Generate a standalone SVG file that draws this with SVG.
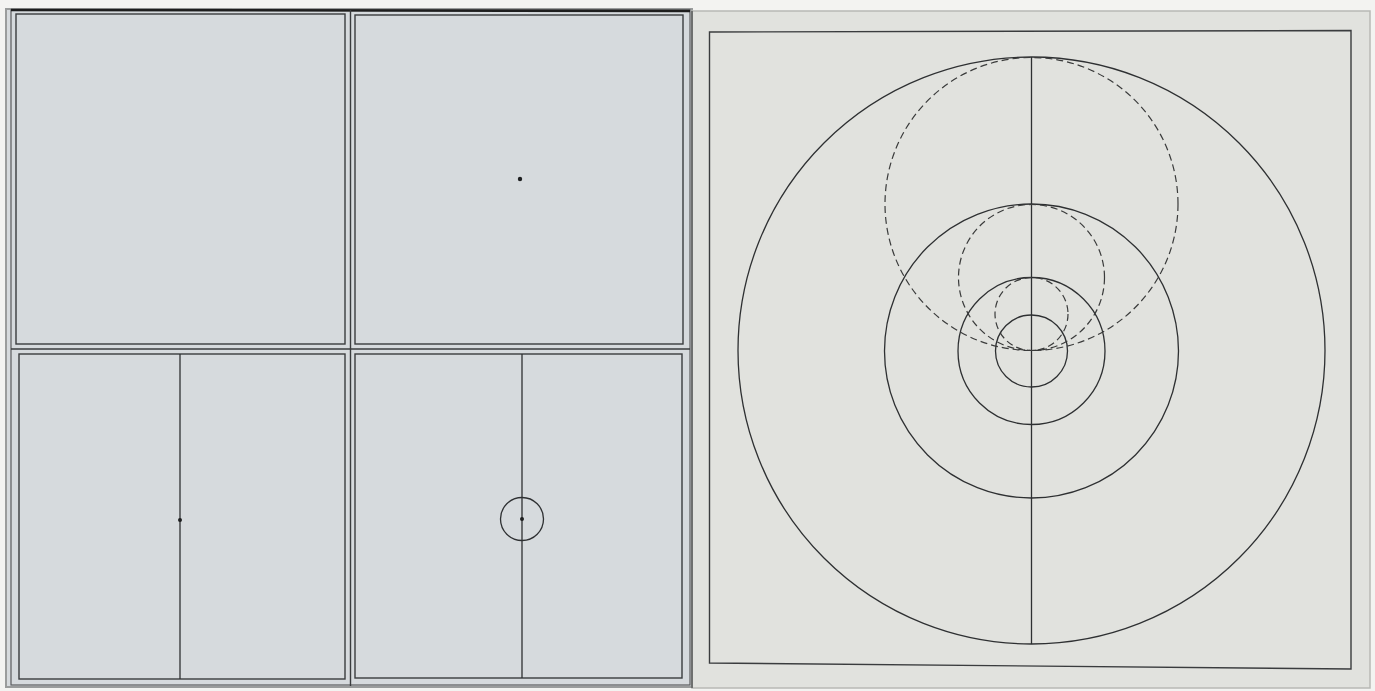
<svg xmlns="http://www.w3.org/2000/svg" width="1375" height="691" viewBox="0 0 1375 691">
<style>
.ln{fill:none;stroke:#2e3032;stroke-width:1.3}
.fr{fill:none;stroke:#3a3c3e;stroke-width:1.4}
.ds{fill:none;stroke:#3a3b3b;stroke-width:1.2;stroke-dasharray:7 4}
.dot{fill:#1e1f20}
</style>
<rect x="0" y="0" width="1375" height="691" fill="#f3f3f1"/>
<!-- left page -->
<g id="left-page">
<rect x="6" y="9" width="686" height="678" fill="#d6dadd" stroke="#9a9c9c" stroke-width="2"/>
<rect x="11" y="10" width="679" height="675" fill="none" stroke="#5a5c5e" stroke-width="1.2"/>
<line x1="11" y1="10" x2="690" y2="11" stroke="#1e1e1e" stroke-width="2.5"/>
<line class="fr" x1="350.5" y1="10" x2="350.5" y2="686"/>
<line class="fr" x1="11" y1="349" x2="690" y2="349"/>
</g>
<g id="panel-tl">
<rect class="fr" x="16" y="14" width="329" height="330"/>
</g>
<g id="panel-tr">
<rect class="fr" x="355" y="15" width="328" height="329"/>
<circle class="dot" cx="520" cy="179" r="2.2"/>
</g>
<g id="panel-bl">
<rect class="fr" x="19" y="354" width="326" height="325"/>
<line class="ln" x1="180" y1="354" x2="180" y2="679" stroke-width="1.6"/>
<circle class="dot" cx="180" cy="520" r="2"/>
</g>
<g id="panel-br">
<rect class="fr" x="355" y="354" width="327" height="324"/>
<line class="ln" x1="522" y1="354" x2="522" y2="678" stroke-width="1.6"/>
<circle class="ln" cx="522" cy="519" r="21.5"/>
<circle class="dot" cx="522" cy="519" r="2"/>
</g>
<!-- right page -->
<g id="right-page">
<rect x="692" y="11" width="678" height="677" fill="#e1e2de" stroke="#b8b9b5" stroke-width="1.5"/>
<line x1="692" y1="11" x2="692" y2="688" stroke="#6e706f" stroke-width="2"/>
<polygon class="fr" points="709.5,32 1351,30.5 1351,669 709.5,663" stroke-width="1.3"/>
</g>
<g id="circles">
<line class="ln" x1="1031.5" y1="57" x2="1031.5" y2="644" stroke-width="1.1"/>
<circle class="ln" cx="1031.5" cy="350.5" r="293.5"/>
<circle class="ln" cx="1031.5" cy="351" r="147"/>
<circle class="ln" cx="1031.5" cy="351" r="73.5"/>
<circle class="ln" cx="1031.5" cy="351" r="36"/>
<circle class="ds" cx="1031.5" cy="204" r="146.5"/>
<circle class="ds" cx="1031.5" cy="277.5" r="73"/>
<circle class="ds" cx="1031.5" cy="314" r="36.5"/>
</g>
</svg>
